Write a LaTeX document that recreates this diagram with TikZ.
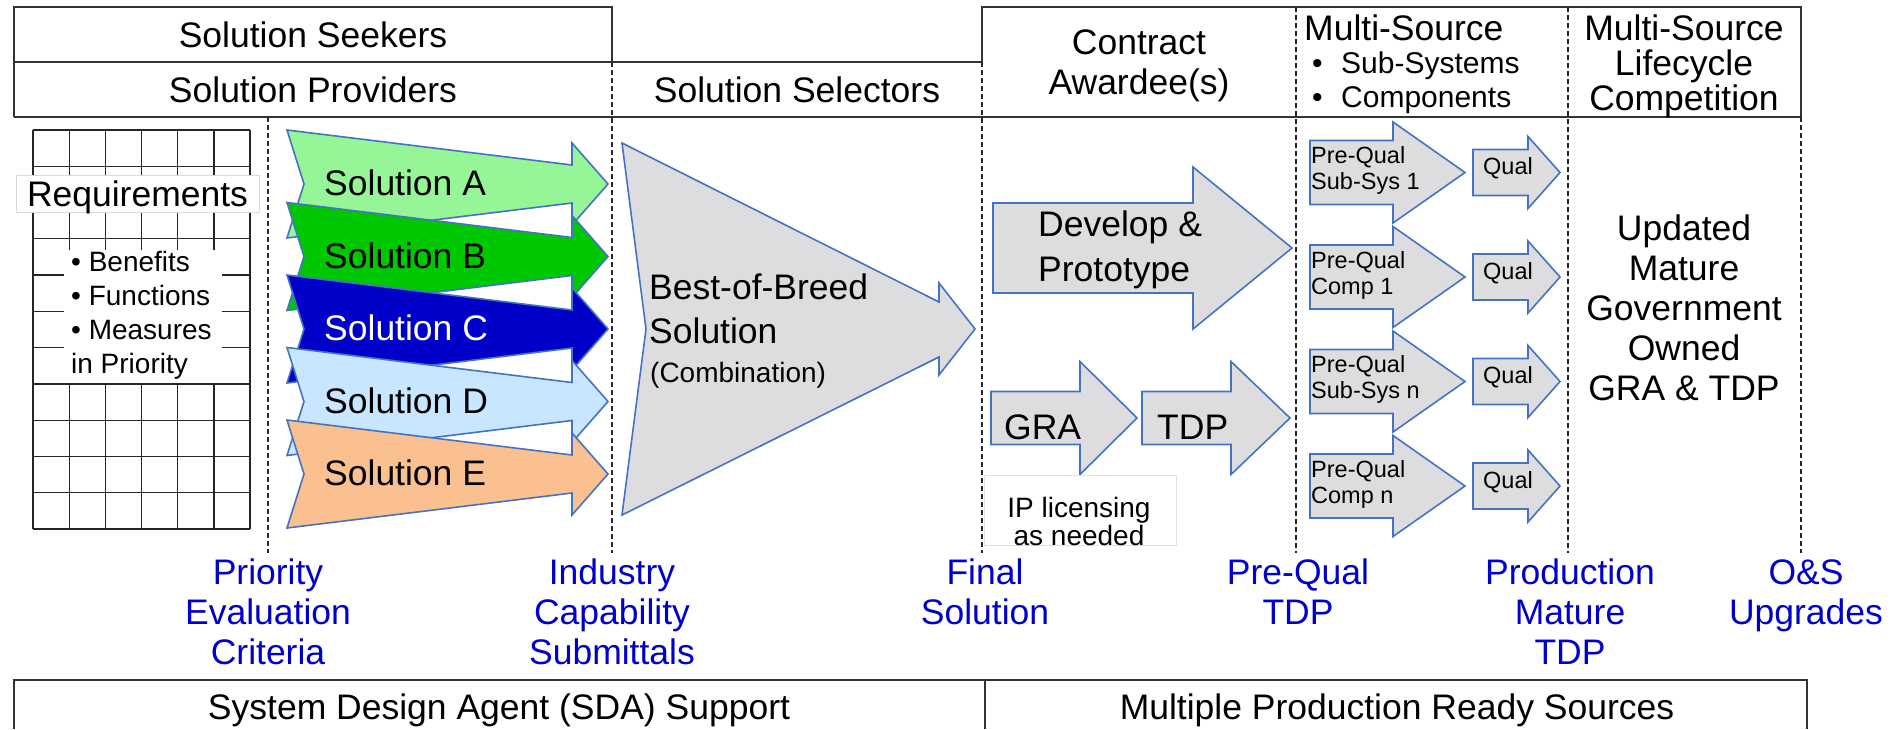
\documentclass[tikz,border=0pt]{standalone}
\usepackage{fontspec}
\setmainfont{Liberation Sans}
\usetikzlibrary{calc}

\definecolor{solA}{RGB}{150,245,150}
\definecolor{solB}{RGB}{0,200,0}
\definecolor{solC}{RGB}{0,0,200}
\definecolor{solD}{RGB}{200,230,255}
\definecolor{solE}{RGB}{250,192,144}
\definecolor{arrowblue}{RGB}{68,114,196}
\definecolor{arrowgrey}{RGB}{221,221,224}
\definecolor{labelblue}{RGB}{0,0,204}

\newcommand{\fsz}[2]{\fontsize{#1}{#2}\selectfont}
% block arrow: left x, head x, tip x, mid y, half shaft, half head
\newcommand{\blockarrow}[6]{%
  \draw[greyarr] (#1,{#4-#5}) -- (#2,{#4-#5}) -- (#2,{#4-#6}) -- (#3,#4)
    -- (#2,{#4+#6}) -- (#2,{#4+#5}) -- (#1,{#4+#5}) -- cycle;}

\begin{document}
\begin{tikzpicture}[x=1pt,y=-1pt,
    tbl/.style={draw=black!80,line width=1.5pt},
    sep/.style={draw=black!85,line width=1.4pt,dash pattern=on 5pt off 3pt},
    cell/.style={draw=black!85,line width=1.3pt},
    arr/.style={draw=arrowblue,line width=1.6pt,line join=miter},
    greyarr/.style={arr,fill=arrowgrey},
    txt/.style={inner sep=0pt,font=\fsz{35.5}{40},align=center},
    lbl/.style={txt,text=labelblue},
    small/.style={inner sep=0pt,font=\fsz{28}{34},align=left}]
\fill[white,use as bounding box] (0,0) rectangle (1893,729);

% header table
\draw[tbl] (14,117) -- (14,7) -- (612,7) -- (612,62);
\draw[tbl] (14,62) -- (982,62);
\draw[tbl] (982,62) -- (982,7) -- (1801,7) -- (1801,117);
\draw[tbl] (14,117) -- (1801,117);
\foreach \xx/\ya in {268/117,612/62,982/62,1296/7,1568/7,1801/117}
  \draw[sep] (\xx,\ya) -- (\xx,553);

\node[txt] (seek) at (313,34.5) {Solution Seekers};
\node[txt] (prov) at (313,89.5) {Solution Providers};
\node[txt] (selr) at (797,89.5) {Solution Selectors};
\node[txt] (awd) at (1139,66) {Contract\\Awardee(s)};
\node[txt,anchor=west] (msrc) at (1304,28) {Multi-Source};
\node[small,font=\fsz{30}{34}] (parts) at (1312,83) [anchor=west]
  {\makebox[29pt][l]{\textbullet}Sub-Systems\\\makebox[29pt][l]{\textbullet}Components};
\node[txt,font=\fsz{35.5}{35}] (lcyc) at (1684,66) {Multi-Source\\Lifecycle\\Competition};

% requirements grid
\foreach \i in {0,...,6}
  \draw[cell] ({33+36.17*\i},130) -- ({33+36.17*\i},529);
\foreach \j in {0,...,11}
  \draw[cell] (33,{130+36.27*\j}) -- (250,{130+36.27*\j});
\draw[draw=black!15,fill=white,line width=0.8pt] (16,175) rectangle (259,212);
\node[txt] (req) at (137.5,197) {Requirements};
\fill[white] (64,250) rectangle (222,383);
\node[small,anchor=west] (crit) at (71,315)
  {\textbullet\ Benefits\\\textbullet\ Functions\\\textbullet\ Measures\\in Priority};

% solution arrows
\foreach \n/\col/\tcol/\yc in {A/solA/black/184,B/solB/black/256.5,C/solC/white/329,D/solD/black/401.5,E/solE/black/474}{
  \draw[arr,fill=\col] (287,{\yc-54}) -- (572,{\yc-19}) -- (572,{\yc-41}) -- (608,\yc)
    -- (572,{\yc+41}) -- (572,{\yc+19}) -- (287,{\yc+54}) -- (304,\yc) -- cycle;
  \node[txt,anchor=west,text=\tcol] (sol\n) at (324,{\yc-1}) {Solution \n};
}

% best-of-breed
\draw[greyarr] (622,143) -- (939,302) -- (939,283) -- (975,329) -- (939,375)
  -- (939,357) -- (622,515) -- (646,329) -- cycle;
\node[txt,anchor=west,align=left,font=\fsz{35.5}{44}] (bob) at (649,309) {Best-of-Breed\\Solution};
\node[txt,anchor=west,font=\fsz{28}{34}] (comb) at (650,375) {(Combination)};

% contract awardee
\blockarrow{993}{1193}{1292}{248}{45}{81}
\node[txt,anchor=west,align=left,font=\fsz{35.5}{45}] (devp) at (1038,250) {Develop \&\\Prototype};
\blockarrow{991}{1080}{1137}{418}{26.5}{56.5}
\node[txt,anchor=west] (gra) at (1004,427) {GRA};
\blockarrow{1142}{1231}{1290}{418}{26.5}{56.5}
\node[txt,anchor=west] (tdp) at (1157,427) {TDP};
\draw[draw=black!12,fill=white,line width=0.8pt] (984,475) rectangle (1176,545);
\node[txt,font=\fsz{28}{28}] (iplic) at (1079,521) {IP licensing\\as needed};

% multi-source
\foreach \lbl/\yc [count=\k] in {Sub-Sys 1/172.5,Comp 1/277,Sub-Sys n/381.5,Comp n/486}{
  \blockarrow{1310}{1393}{1465}{\yc}{32}{50.5}
  \node[txt,anchor=west,align=left,font=\fsz{23.5}{26}] (pq\k) at (1311,{\yc-2}) {Pre-Qual\\\lbl};
  \blockarrow{1473}{1528}{1560}{\yc}{23}{36}
  \node[txt,font=\fsz{23.5}{26}] (ql\k) at (1508,{\yc-4}) {Qual};
}
\node[txt] (upd) at (1684,307.5) {Updated\\Mature\\Government\\Owned\\GRA \& TDP};

% milestones
\node[lbl] (pec) at (268,612) {Priority\\Evaluation\\Criteria};
\node[lbl] (ics) at (612,612) {Industry\\Capability\\Submittals};
\node[lbl] (fin) at (985,592) {Final\\Solution};
\node[lbl] (pqt) at (1298,592) {Pre-Qual\\TDP};
\node[lbl] (pmt) at (1570,612) {Production\\Mature\\TDP};
\node[lbl] (osu) at (1806,595.5) {O\&S\\Upgrades};

% bottom table
\draw[tbl] (14,729) -- (14,680) -- (1807,680) -- (1807,729);
\draw[tbl] (985,680) -- (985,729);
\node[txt] (sda) at (499,710) {System Design Agent (SDA) Support};
\node[txt] (mprs) at (1397,710) {Multiple Production Ready Sources};
\end{tikzpicture}
\end{document}
